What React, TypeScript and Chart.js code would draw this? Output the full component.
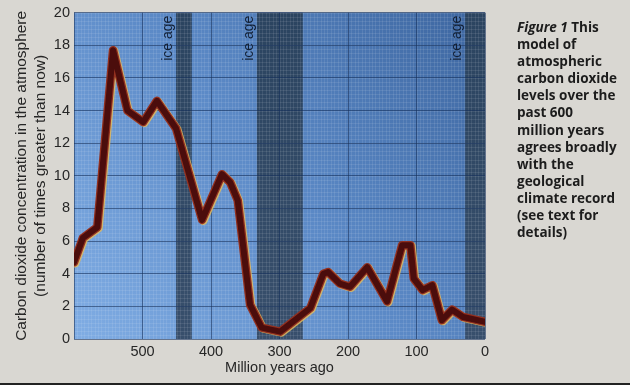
import React, { useEffect, useRef } from 'react';
import { Chart, registerables } from 'chart.js';

Chart.register(...registerables);

// Million years ago (x) and CO2 ratio relative to now (y)
const myaAgo = [600, 587, 566, 543, 522, 499, 479, 451, 413, 384, 372, 361, 343, 326, 299, 255, 236, 229, 212, 197, 172, 143, 121, 109, 104, 91, 77, 63, 48, 32, 0];
const co2Ratio = [4.7, 6.2, 6.85, 17.7, 14.0, 13.3, 14.6, 12.9, 7.3, 10.1, 9.6, 8.5, 2.1, 0.7, 0.45, 1.9, 4.0, 4.1, 3.4, 3.2, 4.4, 2.3, 5.75, 5.75, 3.7, 3.0, 3.3, 1.15, 1.8, 1.35, 1.05];

// Ice age bands (million years ago)
const iceStart = [451, 333, 29];
const iceEnd = [428, 266, 0];
const iceLabel = 'ice age';

const xTicks = [500, 400, 300, 200, 100, 0];
const yTitle = ['Carbon dioxide concentration in the atmosphere', '(number of times greater than now)'];
const xTitle = 'Million years ago';

const captionLines = ['This', 'model of', 'atmospheric', 'carbon dioxide', 'levels over the', 'past 600', 'million years', 'agrees broadly', 'with the', 'geological', 'climate record', '(see text for', 'details)'];

const FONT = "'Liberation Sans', Arial, sans-serif";

const backdrop = {
  id: 'backdrop',
  beforeDraw(chart: any) {
    const { ctx, chartArea: a, scales } = chart;
    const x = scales.x, y = scales.y;
    ctx.save();
    const g = ctx.createLinearGradient(a.right, a.top, a.left, a.bottom);
    g.addColorStop(0, '#3c659f');
    g.addColorStop(0.5, '#5b89c6');
    g.addColorStop(1, '#80ade4');
    ctx.fillStyle = g;
    ctx.fillRect(a.left, a.top, a.right - a.left, a.bottom - a.top);
    iceStart.forEach((s, i) => {
      const x0 = x.getPixelForValue(s);
      const x1 = x.getPixelForValue(iceEnd[i]);
      const bg = ctx.createLinearGradient(0, a.top, 0, a.bottom);
      bg.addColorStop(0, '#2b4460');
      bg.addColorStop(1, '#384f6c');
      ctx.fillStyle = bg;
      ctx.fillRect(Math.min(x0, x1), a.top, Math.abs(x1 - x0), a.bottom - a.top);
    });
    ctx.strokeStyle = 'rgba(255,255,255,0.09)';
    ctx.lineWidth = 1;
    ctx.beginPath();
    for (let v = 0; v <= 20; v += 0.25) {
      const py = Math.round(y.getPixelForValue(v)) + 0.5;
      ctx.moveTo(a.left, py);
      ctx.lineTo(a.right, py);
    }
    for (let m = 0; m <= 600; m += 5) {
      const px = Math.round(x.getPixelForValue(m)) + 0.5;
      ctx.moveTo(px, a.top);
      ctx.lineTo(px, a.bottom);
    }
    ctx.stroke();
    ctx.restore();
  },
  beforeDatasetsDraw(chart: any) {
    const { ctx, chartArea: a, scales } = chart;
    const x = scales.x;
    ctx.save();
    ctx.fillStyle = '#122036';
    ctx.font = `14px ${FONT}`;
    ctx.textAlign = 'right';
    ctx.textBaseline = 'middle';
    iceStart.forEach((s) => {
      const cx = x.getPixelForValue(s) - 8;
      ctx.save();
      ctx.translate(cx, a.top + 3);
      ctx.rotate(-Math.PI / 2);
      ctx.fillText(iceLabel, 0, 0);
      ctx.restore();
    });
    ctx.restore();
  },
  beforeDatasetDraw(chart: any, args: any) {
    if (args.index === 1) {
      const ctx = chart.ctx;
      ctx.save();
      ctx.shadowColor = 'rgba(225,185,90,0.85)';
      ctx.shadowOffsetX = 1.2;
      ctx.shadowOffsetY = 0.8;
      ctx.shadowBlur = 0;
    }
  },
  afterDatasetDraw(chart: any, args: any) {
    if (args.index === 1) chart.ctx.restore();
  },
};

export default function App() {
  const ref = useRef<HTMLCanvasElement>(null);
  useEffect(() => {
    document.body.style.margin = '0';
    const pts = myaAgo.map((m, i) => ({ x: m, y: co2Ratio[i] }));
    const chart = new Chart(ref.current as HTMLCanvasElement, {
      type: 'line',
      data: {
        datasets: [
          {
            data: pts,
            borderColor: '#4b0d0c',
            borderWidth: 6,
            pointRadius: 0,
            tension: 0,
            borderJoinStyle: 'round',
            borderCapStyle: 'round',
            order: 0,
          },
          {
            data: pts,
            borderColor: '#93301f',
            borderWidth: 8.5,
            pointRadius: 0,
            tension: 0,
            borderJoinStyle: 'round',
            borderCapStyle: 'round',
            order: 1,
          },
        ],
      },
      options: {
        responsive: false,
        animation: false,
        layout: { padding: { left: 0, right: 145, top: 12, bottom: 0 } },
        plugins: { legend: { display: false }, tooltip: { enabled: false } },
        scales: {
          x: {
            type: 'linear',
            reverse: true,
            min: 0,
            max: 600,
            afterFit: (s: any) => { s.height = 46; },
            afterBuildTicks: (s: any) => { s.ticks = [600, ...xTicks].map((v) => ({ value: v })); },
            ticks: {
              font: { family: FONT, size: 14.5 },
              color: '#262626',
              padding: 4,
              maxRotation: 0,
              callback: (v: any) => (xTicks.includes(Number(v)) ? String(v) : ''),
            },
            grid: { color: 'rgba(22,48,92,0.6)', lineWidth: 1, drawTicks: false },
            border: { display: false },
            title: {
              display: true,
              text: xTitle,
              font: { family: FONT, size: 14.5 },
              color: '#262626',
              padding: { top: 0, bottom: 8 },
            },
          },
          y: {
            min: 0,
            max: 20,
            afterFit: (s: any) => { s.width = 74; },
            ticks: {
              stepSize: 2,
              font: { family: FONT, size: 14.5 },
              color: '#262626',
              padding: 4,
            },
            grid: { color: 'rgba(22,48,92,0.6)', lineWidth: 1, drawTicks: false },
            border: { display: false },
            title: {
              display: true,
              text: yTitle,
              font: { family: FONT, size: 15.5, lineHeight: 1.18 },
              color: '#262626',
              padding: { top: 13, bottom: 0 },
            },
          },
        },
      },
      plugins: [backdrop],
    } as any);
    return () => chart.destroy();
  }, []);

  return (
    <div style={{ position: 'fixed', left: 0, top: 0, width: 630, height: 385, background: '#d9d7d2', overflow: 'hidden' }}>
      <canvas ref={ref} width={630} height={385} style={{ position: 'absolute', left: 0, top: 0 }} />
      <div
        style={{
          position: 'absolute',
          left: 517,
          top: 19,
          width: 112,
          fontFamily: "'Open Sans', sans-serif",
          fontWeight: 700,
          fontSize: 13.5,
          lineHeight: '17.1px',
          color: '#1c1c1c',
          letterSpacing: '0px',
          whiteSpace: 'nowrap',
        }}
      >
        <div><i>Figure 1</i> {captionLines[0]}</div>
        {captionLines.slice(1).map((l, i) => (
          <div key={i}>{l}</div>
        ))}
      </div>
      <div style={{ position: 'absolute', left: 0, top: 383, width: 630, height: 2, background: '#222' }} />
    </div>
  );
}
